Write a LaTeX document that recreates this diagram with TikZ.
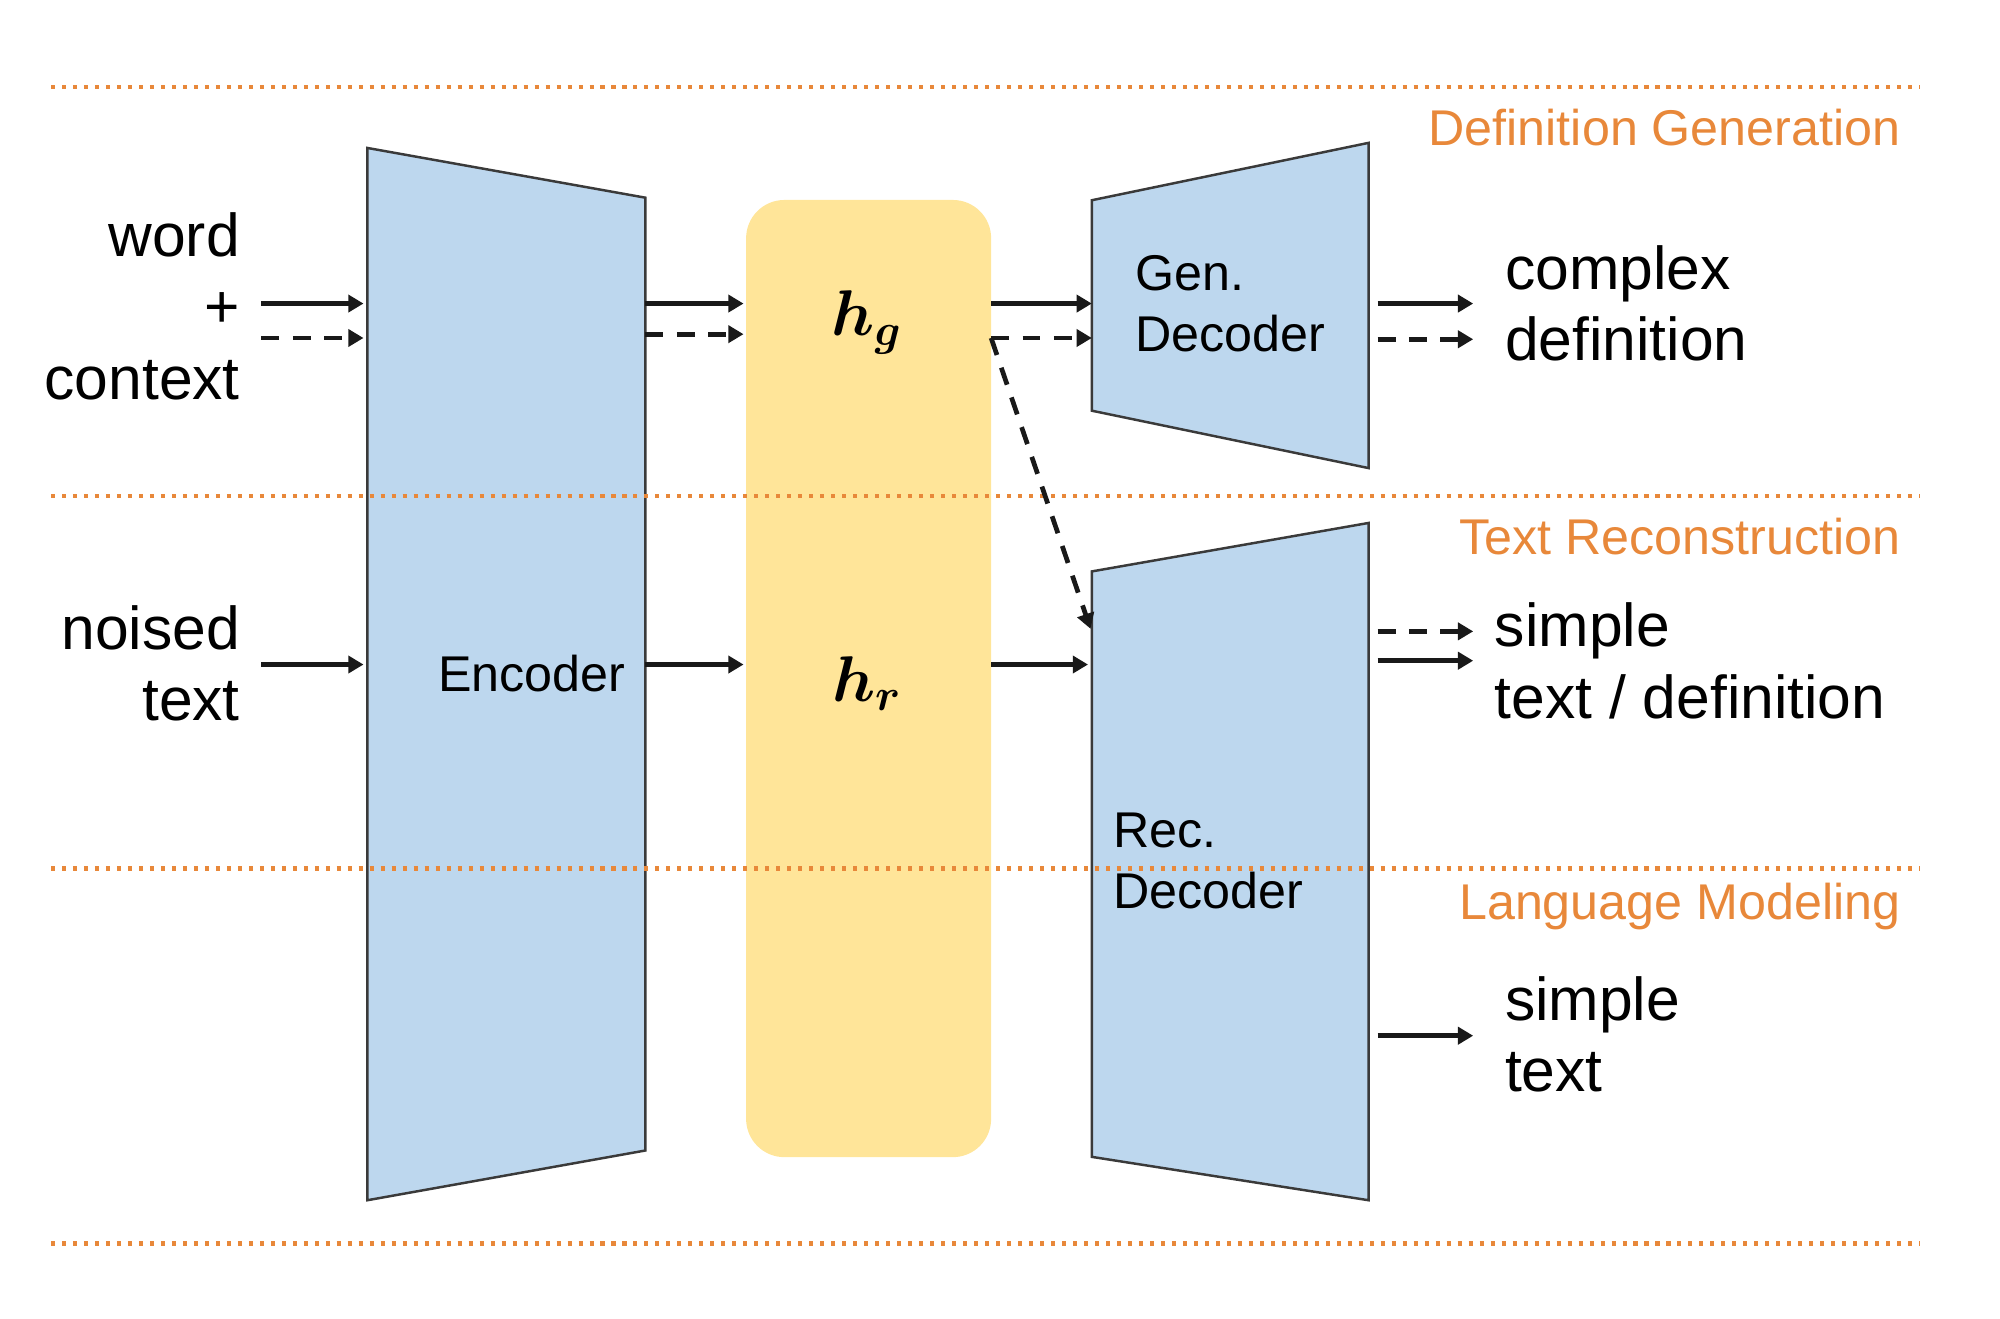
\documentclass[tikz,border=0pt]{standalone}
\usepackage{fontspec}
\setmainfont{Liberation Sans}
\usepackage{bm}
\usetikzlibrary{arrows.meta}
\definecolor{myblue}{HTML}{BDD7EE}
\definecolor{myyellow}{HTML}{FFE599}
\definecolor{myorange}{HTML}{E8883A}
\definecolor{edgegray}{HTML}{3A3A3A}
\begin{document}
\begin{tikzpicture}[x=0.01cm,y=-0.01cm,
  every node/.style={inner sep=0pt, outer sep=0pt},
  lbl/.style={font=\fontsize{13.5}{15.9}\selectfont},
  blk/.style={font=\fontsize{11.2}{13.6}\selectfont, align=left, anchor=west},
  task/.style={font=\fontsize{11.2}{13.4}\selectfont, text=myorange, anchor=east},
  arr/.style={line width=1.05pt, draw=black!90, -{Triangle[length=3.4pt,width=3.8pt]}},
  darr/.style={arr, dash pattern=on 4pt off 3pt},
  sep/.style={myorange, line width=0.95pt, dash pattern=on 0.9pt off 1.55pt},
  trap/.style={fill=myblue, draw=edgegray, line width=0.55pt}]
\path[use as bounding box] (0,0) rectangle (1568,1034);

% latent box
\node[fill=myyellow, rounded corners=0.3cm, minimum width=1.92cm, minimum height=7.5cm] (hbox) at (681,532) {};

% encoder
\draw[trap] (288,116) -- (506,155) -- (506,902) -- (288,941) -- cycle;
\coordinate (encL) at (288,0);
\coordinate (encR) at (506,0);

% generation decoder
\draw[trap] (856,157) -- (1073,112) -- (1073,367) -- (856,322) -- cycle;
\coordinate (genL) at (856,0);
\coordinate (genR) at (1073,0);

% reconstruction decoder
\draw[trap] (856,448) -- (1073,410) -- (1073,941) -- (856,907) -- cycle;
\coordinate (recL) at (856,0);
\coordinate (recR) at (1073,0);

% separators (drawn over the shapes)
\draw[sep] (40,68) -- (1505,68);
\draw[sep] (40,389) -- (1505,389);
\draw[sep] (40,681) -- (1505,681);
\draw[sep] (40,975) -- (1505,975);

% task labels
\node[task] (tdg) at (1490,100) {Definition Generation};
\node[task] (ttr) at (1490,421) {Text Reconstruction};
\node[task] (tlm) at (1490,711) {Language Modeling};

% block labels
\node[font=\fontsize{14.5}{17}\selectfont] (hg) at (680,253) {$\bm{h_g}$};
\node[font=\fontsize{14.5}{17}\selectfont] (hr) at (680,536) {$\bm{h_r}$};
\node[font=\fontsize{11.2}{13.4}\selectfont] (enc) at (417,528) {Encoder};
\node[blk] (gen) at (890,238) {Gen.\\Decoder};
\node[blk] (rec) at (873,675) {Rec.\\Decoder};

% inputs
\node[lbl, align=right, anchor=east] (in1) at (188,240) {word\\+\\context};
\node[lbl, align=right, anchor=east] (in2) at (188,520) {noised\\text};

% outputs
\node[lbl, align=left, anchor=west] (out1) at (1180,238) {complex\\definition};
\node[lbl, align=left, anchor=west] (out2) at (1172,518) {simple\\text / definition};
\node[lbl, align=left, anchor=west] (out3) at (1180,811) {simple\\text};

% arrows: inputs -> encoder
\draw[arr]  ([xshift=0.17cm]in1.east |- 0,238) -- ([xshift=-0.03cm]encL |- 0,238);
\draw[darr] ([xshift=0.17cm]in1.east |- 0,265) -- ([xshift=-0.03cm]encL |- 0,265);
\draw[arr]  ([xshift=0.17cm]in2.east |- 0,521) -- ([xshift=-0.03cm]encL |- 0,521);

% encoder -> latent
\draw[arr]  (encR |- 0,238) -- ([xshift=-0.02cm]hbox.west |- 0,238);
\draw[darr] (encR |- 0,262) -- ([xshift=-0.02cm]hbox.west |- 0,262);
\draw[arr]  (encR |- 0,521) -- ([xshift=-0.02cm]hbox.west |- 0,521);

% latent -> decoders
\coordinate (dstart) at (hbox.east |- 0,265);
\draw[arr]  (hbox.east |- 0,238) -- (genL |- 0,238);
\draw[darr] (dstart) -- (genL |- 0,265);
\draw[darr] (dstart) -- ([xshift=-0.01cm]recL |- 0,493);
\draw[arr]  (hbox.east |- 0,521) -- ([xshift=-0.03cm]recL |- 0,521);

% decoders -> outputs
\draw[arr]  ([xshift=0.07cm]genR |- 0,238) -- ([xshift=-0.25cm]out1.west |- 0,238);
\draw[darr] ([xshift=0.07cm]genR |- 0,266) -- ([xshift=-0.25cm]out1.west |- 0,266);
\draw[darr] ([xshift=0.07cm]recR |- 0,495) -- ([xshift=-0.17cm]out2.west |- 0,495);
\draw[arr]  ([xshift=0.07cm]recR |- 0,518) -- ([xshift=-0.17cm]out2.west |- 0,518);
\draw[arr]  ([xshift=0.07cm]recR |- 0,812) -- ([xshift=-0.25cm]out3.west |- 0,812);
\end{tikzpicture}
\end{document}
